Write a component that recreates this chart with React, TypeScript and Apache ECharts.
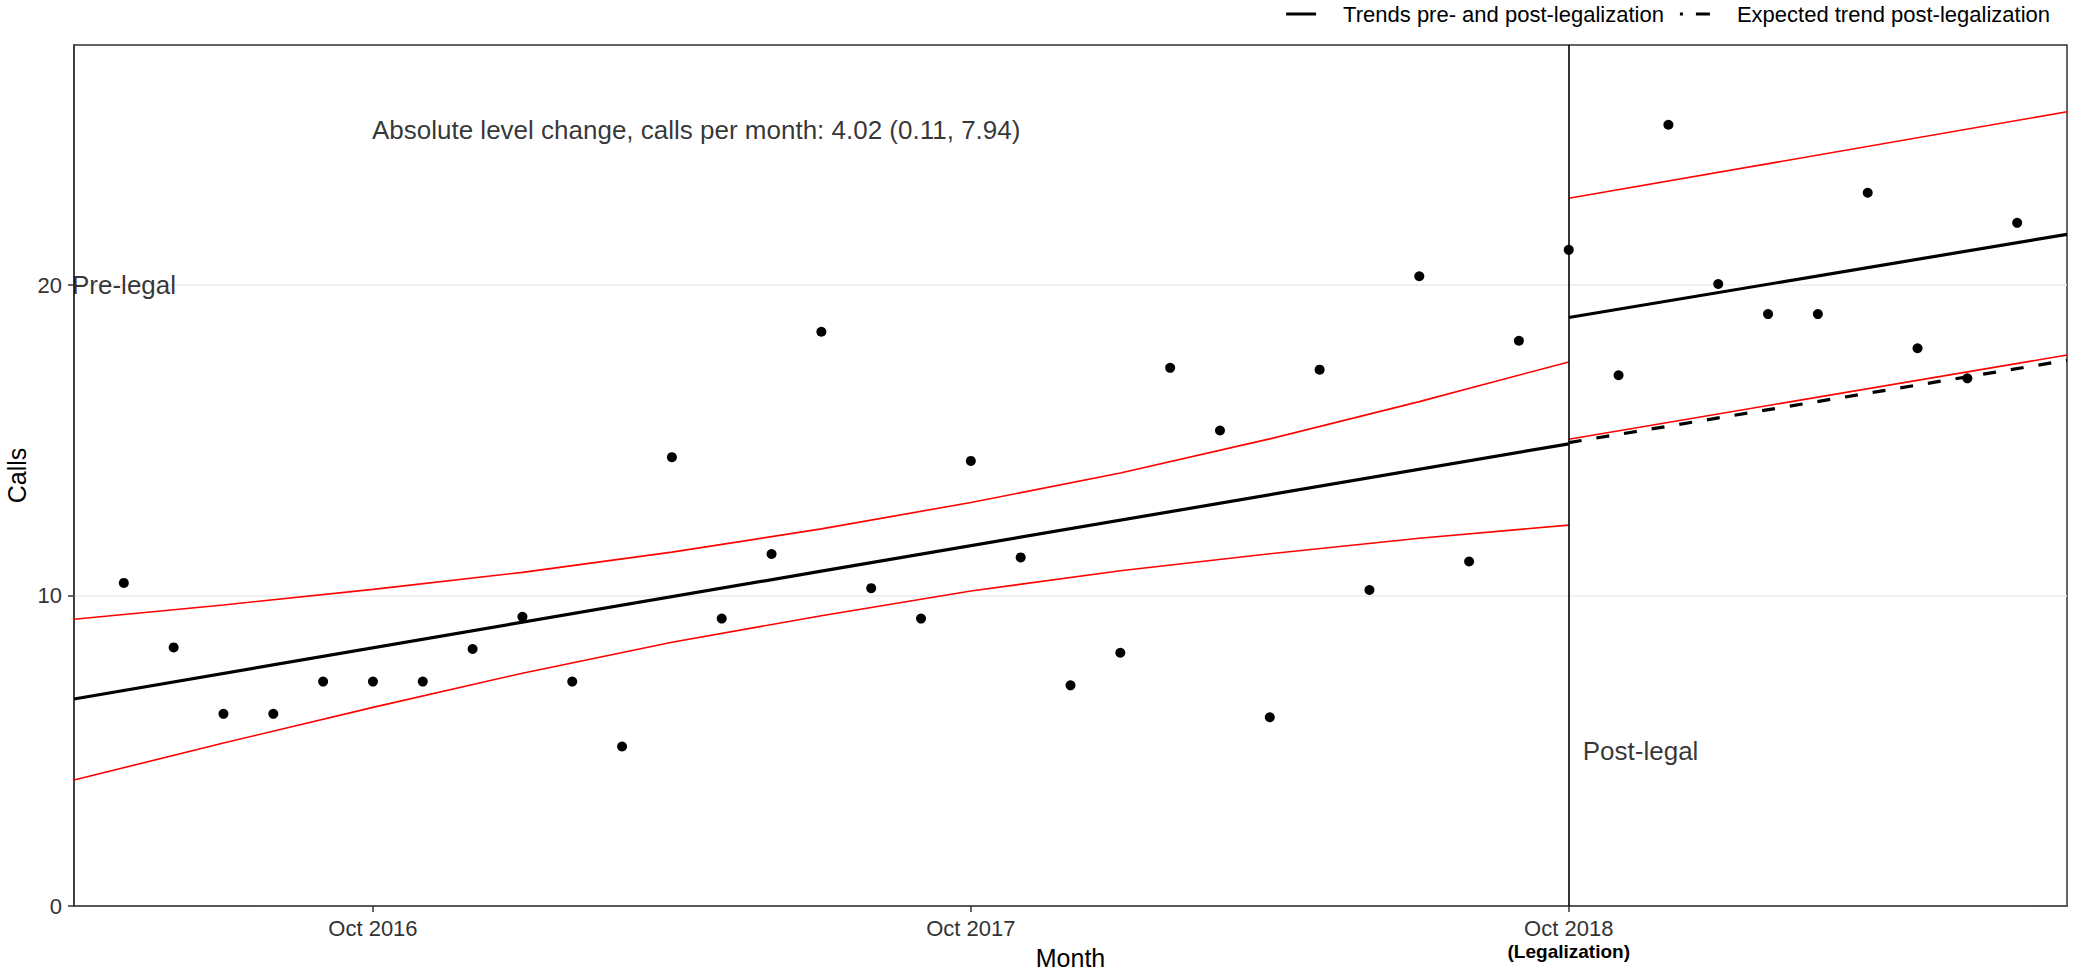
import React, { useEffect, useRef } from "react";
import * as echarts from "echarts";

// ---------- data ----------
const months = [
  "2016-05", "2016-06", "2016-07", "2016-08", "2016-09", "2016-10", "2016-11", "2016-12",
  "2017-01", "2017-02", "2017-03", "2017-04", "2017-05", "2017-06", "2017-07", "2017-08",
  "2017-09", "2017-10", "2017-11", "2017-12", "2018-01", "2018-02", "2018-03", "2018-04",
  "2018-05", "2018-06", "2018-07", "2018-08", "2018-09", "2018-10", "2018-11", "2018-12",
  "2019-01", "2019-02", "2019-03", "2019-04", "2019-05", "2019-06", "2019-07",
];
const calls = [
  10.41, 8.33, 6.19, 6.19, 7.23, 7.23, 7.23, 8.28,
  9.32, 7.23, 5.14, 14.46, 9.26, 11.34, 18.5, 10.24,
  9.26, 14.34, 11.23, 7.11, 8.16, 17.34, 15.32, 6.08,
  17.28, 10.18, 20.29, 11.1, 18.21, 21.14, 17.1, 25.17,
  20.04, 19.07, 19.07, 22.98, 17.97, 17.0, 22.01,
];

const trendPreMonths = ["2016-04", "2017-07", "2018-10"];
const trendPreValues = [6.67, 10.79, 14.89];

const ciPreMonths = [
  "2016-04", "2016-07", "2016-10", "2017-01", "2017-04", "2017-07",
  "2017-10", "2018-01", "2018-04", "2018-07", "2018-10",
];
const ciPreUpper = [9.24, 9.7, 10.2, 10.75, 11.4, 12.15, 13.0, 13.95, 15.05, 16.25, 17.53];
const ciPreLower = [4.06, 5.25, 6.4, 7.5, 8.5, 9.35, 10.15, 10.8, 11.35, 11.85, 12.27];

const trendPostMonths = ["2018-10", "2019-08"];
const trendPostValues = [18.96, 21.64];
const ciPostUpper = [22.8, 25.59];
const ciPostLower = [15.04, 17.75];
const expectedValues = [14.93, 17.58];

const legalizationMonth = "2018-10";
const tickMonths = ["2016-10", "2017-10", "2018-10"];
const tickLabels = ["Oct 2016", "Oct 2017", "Oct 2018"];
const legalizationNote = "(Legalization)";
const yTicks = [0, 10, 20];

const annotationTexts = ["Pre-legal", "Absolute level change, calls per month: 4.02 (0.11, 7.94)", "Post-legal"];
const annotationMonths = ["2016-04", "2016-10", "2018-10"];
const annotationValues = [20, 25, 5];

const legendTrend = "Trends pre- and post-legalization";
const legendExpected = "Expected trend post-legalization";

// ---------- layout / style ----------
const X_MIN_MONTH = "2016-04";
const X_MAX_MONTH = "2019-08";
const Y_MAX = 27.74;
const FONT = "'Liberation Sans', Arial, Helvetica, sans-serif";
const annotationDistances = [-2, -1, 14];

const toOffset = (m: string) => {
  const [y, mo] = m.split("-").map(Number);
  return (y - 2016) * 12 + (mo - 10);
};
const pairs = (ms: string[], vs: number[]) => ms.map((m, i) => [toOffset(m), vs[i]]);

export default function App() {
  const ref = useRef<HTMLDivElement>(null);

  useEffect(() => {
    document.body.style.margin = "0";
    if (!ref.current) return;
    const chart = echarts.init(ref.current, null, { renderer: "svg" });

    const tickOffsets = tickMonths.map(toOffset);
    const legalOffset = toOffset(legalizationMonth);

    const redLine = { color: "#ff0000", width: 1.6 };

    const option: any = {
      animation: false,
      backgroundColor: "#ffffff",
      textStyle: { fontFamily: FONT },
      legend: {
        data: [
          { name: legendTrend, icon: "path://M0,0h30v3h-30z" },
          { name: legendExpected, icon: "path://M0,0h3v3h-3z M16,0h14v3h-14z" },
        ],
        top: -2,
        right: 20,
        itemWidth: 30,
        itemHeight: 3,
        itemGap: 16,
        itemStyle: { color: "#000", borderWidth: 0 },
        textStyle: { fontSize: 22, color: "#000", fontFamily: FONT, padding: [0, 0, 0, 22] },
      },
      grid: {
        left: 74,
        right: 8,
        top: 45,
        bottom: 69,
        show: true,
        borderColor: "#333333",
        borderWidth: 1.5,
        containLabel: false,
        outerBoundsMode: "none",
      },
      xAxis: {
        type: "value",
        min: toOffset(X_MIN_MONTH),
        max: toOffset(X_MAX_MONTH),
        name: "Month",
        nameLocation: "middle",
        nameGap: 39,
        nameMoveOverlap: false,
        nameTextStyle: { fontSize: 25, color: "#000", fontFamily: FONT },
        axisLine: { show: true, onZero: false, lineStyle: { color: "#333333", width: 1.5 } },
        axisTick: { show: true, length: 6, customValues: tickOffsets, lineStyle: { color: "#333333", width: 1.5 } },
        splitLine: { show: false },
        axisLabel: {
          customValues: tickOffsets,
          margin: 10,
          fontSize: 22,
          color: "#333333",
          fontFamily: FONT,
          lineHeight: 24,
          formatter: (v: number) => {
            const i = tickOffsets.indexOf(v);
            if (i < 0) return "";
            return v === legalOffset ? `${tickLabels[i]}\n{b|${legalizationNote}}` : tickLabels[i];
          },
          rich: {
            b: { fontSize: 19, fontWeight: "bold", color: "#000", fontFamily: FONT, lineHeight: 22 },
          },
        },
      },
      yAxis: {
        type: "value",
        min: 0,
        max: Y_MAX,
        interval: 10,
        name: "Calls",
        nameLocation: "middle",
        nameRotate: 90,
        nameGap: 45,
        nameMoveOverlap: false,
        nameTextStyle: { fontSize: 25, color: "#000", fontFamily: FONT },
        axisLine: { show: true, onZero: false, lineStyle: { color: "#333333", width: 1.5 } },
        axisTick: { show: true, length: 6, customValues: yTicks, lineStyle: { color: "#333333", width: 1.5 } },
        axisLabel: { customValues: yTicks, margin: 12, fontSize: 22, color: "#333333", fontFamily: FONT },
        splitLine: { show: true, lineStyle: { color: "#ebebeb", width: 1.5 } },
      },
      series: [
        {
          name: "ciPreUpper",
          type: "line",
          data: pairs(ciPreMonths, ciPreUpper),
          symbol: "none",
          lineStyle: redLine,
          z: 2,
        },
        {
          name: "ciPreLower",
          type: "line",
          data: pairs(ciPreMonths, ciPreLower),
          symbol: "none",
          lineStyle: redLine,
          z: 2,
        },
        {
          name: "ciPostUpper",
          type: "line",
          data: pairs(trendPostMonths, ciPostUpper),
          symbol: "none",
          lineStyle: redLine,
          z: 2,
        },
        {
          name: legendExpected,
          type: "line",
          data: pairs(trendPostMonths, expectedValues),
          symbol: "none",
          itemStyle: { color: "#000" },
          lineStyle: { color: "#000", width: 3.2, type: [13, 15] },
          z: 3,
        },
        {
          name: "ciPostLower",
          type: "line",
          data: pairs(trendPostMonths, ciPostLower),
          symbol: "none",
          lineStyle: redLine,
          z: 4,
        },
        {
          name: legendTrend,
          type: "line",
          data: pairs(trendPreMonths, trendPreValues),
          symbol: "none",
          itemStyle: { color: "#000" },
          lineStyle: { color: "#000", width: 3.2 },
          z: 4,
        },
        {
          name: legendTrend,
          type: "line",
          data: pairs(trendPostMonths, trendPostValues),
          symbol: "none",
          itemStyle: { color: "#000" },
          lineStyle: { color: "#000", width: 3.2 },
          z: 4,
        },
        {
          name: "Observed",
          type: "scatter",
          data: months.map((m, i) => [toOffset(m), calls[i]]),
          symbol: "circle",
          symbolSize: 10,
          itemStyle: { color: "#000", opacity: 1 },
          z: 6,
          markLine: {
            silent: true,
            symbol: ["none", "none"],
            label: { show: false },
            lineStyle: { color: "#000", width: 1.6, type: "solid" },
            data: [{ xAxis: legalOffset }],
          },
        },
        {
          name: "Annotations",
          type: "scatter",
          symbolSize: 0,
          silent: true,
          z: 7,
          data: annotationTexts.map((t, i) => ({
            name: t,
            value: [toOffset(annotationMonths[i]), annotationValues[i]],
            label: { distance: annotationDistances[i] },
          })),
          label: {
            show: true,
            position: "right",
            formatter: (p: any) => p.name,
            fontSize: 26,
            color: "#000",
            fontFamily: FONT,
          },
        },
      ],
    };

    chart.setOption(option);
    return () => chart.dispose();
  }, []);

  return <div ref={ref} style={{ width: 2075, height: 975 }} />;
}
